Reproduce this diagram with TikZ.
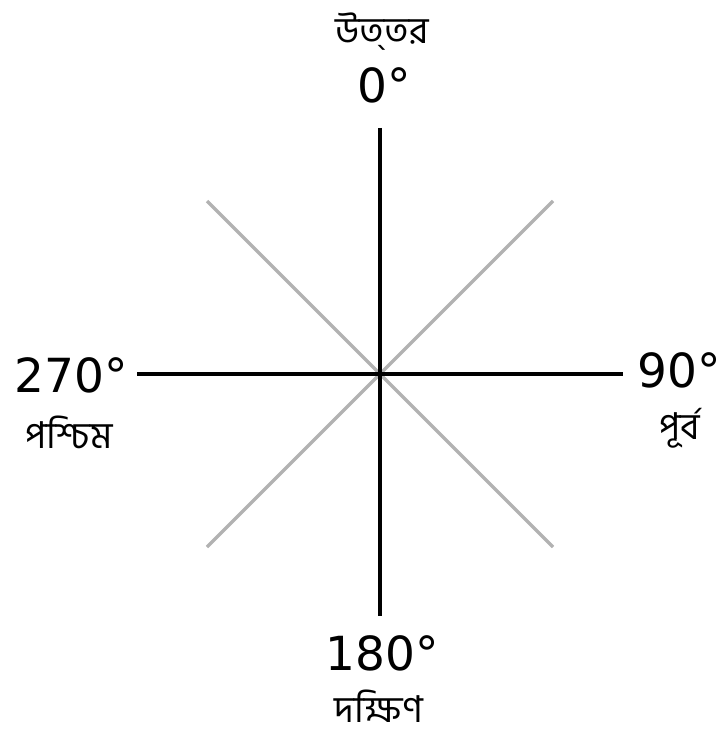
\documentclass[tikz,border=0pt]{standalone}
\usepackage{fontspec}
\setmainfont{DejaVu Sans}
\newfontfamily\bnfont[Script=Bengali]{Hind Siliguri}
\begin{document}
\begin{tikzpicture}[x=1pt,y=-1pt,
  axis/.style={line width=4.5pt,black},
  diag/.style={line width=3.5pt,black!30},
  num/.style={font=\fontsize{47}{50}\selectfont,inner sep=0pt,anchor=base},
  bn/.style={font=\bnfont\fontsize{37}{41}\selectfont,inner sep=0pt,anchor=base}]
\useasboundingbox (0,0) rectangle (721,738);
\coordinate (c) at (380,374);
\coordinate (d1) at (207,201);
\coordinate (d2) at (553,547);
\coordinate (d3) at (553,201);
\coordinate (d4) at (207,547);
\coordinate (n) at (380,128);
\coordinate (s) at (380,616);
\coordinate (w) at (137,374);
\coordinate (e) at (623,374);
\draw[diag] (d1) -- (d2);
\draw[diag] (d3) -- (d4);
\draw[axis] (n) -- (s);
\draw[axis] (w) -- (e);
\node[num] (n0) at (384,103) {0°};
\node[bn] (nl) at (382,44) {উত্‌তর};
\node[num] (n270) at (71,392) {270°};
\node[bn] (wl) at (69,448) {পশ্চিম};
\node[num] (n90) at (679,387) {90°};
\node[bn] (el) at (680,439) {পূর্ব};
\node[num] (n180) at (382,670) {180°};
\node[bn] (sl) at (379,722) {দক্ষিণ};
\end{tikzpicture}
\end{document}
